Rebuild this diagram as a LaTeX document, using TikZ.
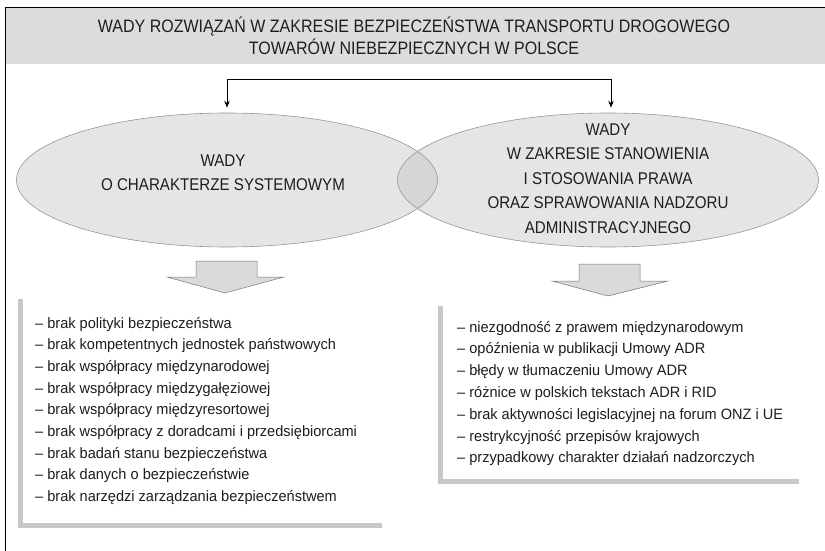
\documentclass[tikz,border=0pt]{standalone}
\usepackage{fontspec}
\setmainfont{Liberation Sans}
\newfontfamily\condfont[FakeStretch=0.89]{Liberation Sans}
\newfontfamily\listfont[FakeStretch=0.97]{Liberation Sans}
\usetikzlibrary{shapes.geometric,arrows.meta}
\definecolor{headfill}{RGB}{220,220,221}
\definecolor{ellfill}{RGB}{229,229,230}
\definecolor{ovlfill}{RGB}{214,214,215}
\definecolor{ellline}{RGB}{150,150,150}
\definecolor{blkfill}{RGB}{218,218,219}
\definecolor{blkline}{RGB}{120,120,120}
\definecolor{barcol}{RGB}{200,200,201}
\definecolor{txt}{RGB}{30,30,30}
\tikzset{
  frameline/.style={line width=1pt, black},
  ellshape/.style={ellipse, draw=ellline, line width=0.6pt, minimum width=421pt, minimum height=134pt, inner sep=0pt},
  conn/.style={line width=0.9pt, black, -{Stealth[length=7pt,width=5.5pt]}, shorten >=5pt},
  blockarrow/.style={fill=blkfill, draw=blkline, line width=0.5pt, line join=miter},
  lbar/.style={barcol, line width=5pt},
  titletext/.style={font=\condfont\fontsize{18}{20}\selectfont, text=txt, inner sep=0pt, anchor=base},
  elltext/.style={font=\condfont\fontsize{17}{20}\selectfont, text=txt, inner sep=0pt, anchor=base},
  listtext/.style={font=\listfont\fontsize{15}{18}\selectfont, text=txt, inner sep=0pt, anchor=base west},
}
\begin{document}
\begin{tikzpicture}[x=1pt,y=-1pt]
\useasboundingbox (0,0) rectangle (825,551);
\fill[white] (0,0) rectangle (825,551);
% header band and frame
\fill[headfill] (5,8) rectangle (825,64);
\draw[frameline] (825,8) -- (5,8) -- (5,551);
\node[titletext] (t1) at (414,33) {WADY ROZWIĄZAŃ W ZAKRESIE BEZPIECZEŃSTWA TRANSPORTU DROGOWEGO};
\node[titletext] (t2) at (414,55) {TOWARÓW NIEBEZPIECZNYCH W POLSCE};
% ellipses
\fill[ellfill] (227,180) ellipse [x radius=210.5, y radius=67];
\fill[ellfill] (608,180) ellipse [x radius=210.5, y radius=67];
\begin{scope}
  \clip (227,180) ellipse [x radius=210.5, y radius=67];
  \fill[ovlfill] (608,180) ellipse [x radius=210.5, y radius=67];
\end{scope}
\node[ellshape] (ellL) at (227,180) {};
\node[ellshape] (ellR) at (608,180) {};
% connector
\coordinate (split) at (420,79);
\draw[conn] (split) -| (ellL.north);
\draw[conn] (split) -| ([xshift=3pt]ellR.north);
% ellipse texts
\node[elltext] (eL1) at (223,166) {WADY};
\node[elltext] (eL2) at (223,190.5) {O CHARAKTERZE SYSTEMOWYM};
\node[elltext] (eR1) at (608,135) {WADY};
\node[elltext] (eR2) at (608,159.5) {W ZAKRESIE STANOWIENIA};
\node[elltext] (eR3) at (608,184) {I STOSOWANIA PRAWA};
\node[elltext] (eR4) at (608,208.5) {ORAZ SPRAWOWANIA NADZORU};
\node[elltext] (eR5) at (608,233) {ADMINISTRACYJNEGO};
% block arrows
\draw[blockarrow] (196,261) -- (257,261) -- (257,277) -- (284,277) -- (225,293) -- (167,277) -- (196,277) -- cycle;
\draw[blockarrow] (579,264) -- (640,264) -- (640,281) -- (668,281) -- (608,296) -- (552,281) -- (579,281) -- cycle;
% list frames
\draw[lbar] (20.5,299) -- (20.5,525) -- (382,525);
\draw[lbar] (440.5,306) -- (440.5,481) -- (799,481);
% left list
\foreach \txtline [count=\i from 0] in {
  {– brak polityki bezpieczeństwa},
  {– brak kompetentnych jednostek państwowych},
  {– brak współpracy międzynarodowej},
  {– brak współpracy międzygałęziowej},
  {– brak współpracy międzyresortowej},
  {– brak współpracy z doradcami i przedsiębiorcami},
  {– brak badań stanu bezpieczeństwa},
  {– brak danych o bezpieczeństwie},
  {– brak narzędzi zarządzania bezpieczeństwem}}
  \node[listtext] (lL\i) at (35,328+21.7*\i) {\txtline};
% right list
\foreach \txtline [count=\i from 0] in {
  {– niezgodność z prawem międzynarodowym},
  {– opóźnienia w publikacji Umowy ADR},
  {– błędy w tłumaczeniu Umowy ADR},
  {– różnice w polskich tekstach ADR i RID},
  {– brak aktywności legislacyjnej na forum ONZ i UE},
  {– restrykcyjność przepisów krajowych},
  {– przypadkowy charakter działań nadzorczych}}
  \node[listtext] (lR\i) at (457,332+21.8*\i) {\txtline};
\end{tikzpicture}
\end{document}
